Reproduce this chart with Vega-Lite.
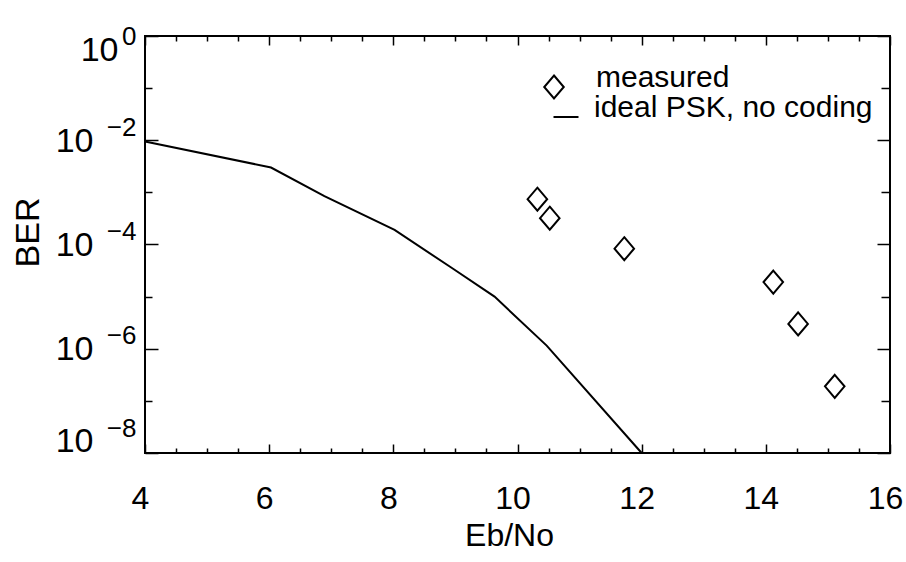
{
  "$schema": "https://vega.github.io/schema/vega-lite/v6.json",
  "autosize": "none",
  "width": 745,
  "height": 417,
  "padding": {"left": 145, "top": 36, "right": 16, "bottom": 109},
  "background": "white",
  "config": {
    "font": "Liberation Sans",
    "view": {"stroke": "black", "strokeWidth": 2},
    "axis": {"grid": false, "domain": false, "labelColor": "black", "titleColor": "black", "tickColor": "black"}
  },
  "datasets": {
    "ideal": [
      {"ebno": 4.0, "ber": 0.0095, "series": "ideal PSK, no coding"},
      {"ebno": 6.03, "ber": 0.003, "series": "ideal PSK, no coding"},
      {"ebno": 6.89, "ber": 0.00085, "series": "ideal PSK, no coding"},
      {"ebno": 8.02, "ber": 0.00019, "series": "ideal PSK, no coding"},
      {"ebno": 8.95, "ber": 0.000035, "series": "ideal PSK, no coding"},
      {"ebno": 9.63, "ber": 0.00001, "series": "ideal PSK, no coding"},
      {"ebno": 10.47, "ber": 0.00000115, "series": "ideal PSK, no coding"},
      {"ebno": 12.0, "ber": 0.00000001, "series": "ideal PSK, no coding"}
    ],
    "measured": [
      {"ebno": 10.32, "ber": 0.00074, "series": "measured"},
      {"ebno": 10.52, "ber": 0.00032, "series": "measured"},
      {"ebno": 11.72, "ber": 0.000083, "series": "measured"},
      {"ebno": 14.12, "ber": 0.000019, "series": "measured"},
      {"ebno": 14.52, "ber": 0.000003, "series": "measured"},
      {"ebno": 15.11, "ber": 0.00000019, "series": "measured"}
    ]
  },
  "layer": [
    {
      "data": {"name": "ideal"},
      "mark": {"type": "line", "strokeWidth": 2},
      "encoding": {
        "x": {
          "field": "ebno", "type": "quantitative",
          "scale": {"domain": [4, 16], "nice": false, "zero": false},
          "axis": {
            "orient": "bottom", "values": [4, 6, 8, 10, 12, 14, 16], "ticks": false,
            "labelFontSize": 32, "labelPadding": 30, "labelFlush": false, "labelOffset": -5,
            "title": "Eb/No", "titleFontSize": 32, "titleFontWeight": "normal",
            "titleX": 364, "titleY": 92, "titleBaseline": "alphabetic", "titleAlign": "center"
          }
        },
        "y": {
          "field": "ber", "type": "quantitative",
          "scale": {"type": "log", "domain": [0.00000001, 1], "nice": false},
          "axis": {
            "orient": "left", "values": [1, 0.01, 0.0001, 0.000001, 0.00000001], "ticks": false,
            "labelExpr": "'10'", "labelFontSize": 34, "labelBaseline": "alphabetic",
            "labelOffset": {"condition": [{"test": "datum.value > 0.5", "value": 24}, {"test": "datum.value < 0.00000005", "value": -2}], "value": 11},
            "labelPadding": {"condition": {"test": "datum.value > 0.5", "value": 27}, "value": 52},
            "title": "BER", "titleFontSize": 34, "titleFontWeight": "normal",
            "titleX": -107, "titleY": 196, "titleAngle": -90, "titleBaseline": "alphabetic", "titleAlign": "center"
          }
        },
        "color": {
          "field": "series", "type": "nominal",
          "scale": {"domain": ["ideal PSK, no coding"], "range": ["black"]},
          "legend": {
            "orient": "none", "legendX": 406, "legendY": 66, "title": null, "padding": 0,
            "labelFontSize": 30, "labelColor": "black", "labelBaseline": "alphabetic", "labelOffset": 13,
            "symbolType": "stroke", "symbolSize": 625, "symbolStrokeColor": "black", "symbolStrokeWidth": 2,
            "labelLimit": 400
          }
        }
      }
    },
    {
      "data": {"name": "measured"},
      "mark": {"type": "point", "filled": false, "stroke": "black", "strokeWidth": 2, "size": 529, "opacity": 1},
      "encoding": {
        "x": {
          "field": "ebno", "type": "quantitative",
          "axis": {
            "orient": "bottom", "labels": false, "title": null,
            "values": [4, 4.5, 5, 5.5, 6, 6.5, 7, 7.5, 8, 8.5, 9, 9.5, 10, 10.5, 11, 11.5, 12, 12.5, 13, 13.5, 14, 14.5, 15, 15.5, 16],
            "tickWidth": 1.5,
            "tickSize": {"condition": {"test": "datum.value % 2 === 0", "value": -9}, "value": -5}
          }
        },
        "y": {
          "field": "ber", "type": "quantitative",
          "axis": {
            "orient": "left", "labels": false, "title": null,
            "values": [1, 0.1, 0.01, 0.001, 0.0001, 0.00001, 0.000001, 0.0000001, 0.00000001],
            "tickWidth": 1.5,
            "tickSize": {"condition": {"test": "round(log(datum.value)/LN10) % 2 === 0", "value": -13}, "value": -7}
          }
        },
        "shape": {
          "field": "series", "type": "nominal",
          "scale": {"domain": ["measured"], "range": ["M0,-1L0.85,0L0,1L-0.85,0Z"]},
          "legend": {
            "orient": "none", "legendX": 394, "legendY": 36, "title": null, "padding": 0,
            "labelFontSize": 30, "labelColor": "black", "labelBaseline": "alphabetic", "labelOffset": 27,
            "symbolSize": 529, "symbolStrokeColor": "black", "symbolStrokeWidth": 2,
            "symbolFillColor": "transparent", "labelLimit": 400
          }
        }
      }
    },
    {
      "data": {"name": "ideal"},
      "mark": {"type": "point", "opacity": 0},
      "encoding": {
        "x": {
          "field": "ebno", "type": "quantitative",
          "axis": {
            "orient": "top", "labels": false, "title": null,
            "values": [4, 4.5, 5, 5.5, 6, 6.5, 7, 7.5, 8, 8.5, 9, 9.5, 10, 10.5, 11, 11.5, 12, 12.5, 13, 13.5, 14, 14.5, 15, 15.5, 16],
            "tickWidth": 1.5,
            "tickSize": {"condition": {"test": "datum.value % 2 === 0", "value": -9}, "value": -5}
          }
        },
        "y": {
          "field": "ber", "type": "quantitative",
          "axis": {
            "orient": "right", "labels": false, "title": null,
            "values": [1, 0.1, 0.01, 0.001, 0.0001, 0.00001, 0.000001, 0.0000001, 0.00000001],
            "tickWidth": 1.5,
            "tickSize": {"condition": {"test": "round(log(datum.value)/LN10) % 2 === 0", "value": -13}, "value": -9}
          }
        }
      }
    },
    {
      "data": {"name": "ideal"},
      "mark": {"type": "point", "opacity": 0},
      "encoding": {
        "x": {"field": "ebno", "type": "quantitative", "axis": null},
        "y": {
          "field": "ber", "type": "quantitative",
          "axis": {
            "orient": "left", "ticks": false, "title": null,
            "values": [1, 0.01, 0.0001, 0.000001, 0.00000001],
            "labelExpr": "datum.value > 0.5 ? '0' : datum.value > 0.005 ? '\u22122' : datum.value > 0.00005 ? '\u22124' : datum.value > 0.0000005 ? '\u22126' : '\u22128'",
            "labelFontSize": 26, "labelPadding": 9, "labelBaseline": "alphabetic",
            "labelOffset": {"condition": [{"test": "datum.value > 0.5", "value": 8}, {"test": "datum.value < 0.00000005", "value": -17}], "value": -5}
          }
        }
      }
    }
  ],
  "resolve": {"axis": {"x": "independent", "y": "independent"}}
}
